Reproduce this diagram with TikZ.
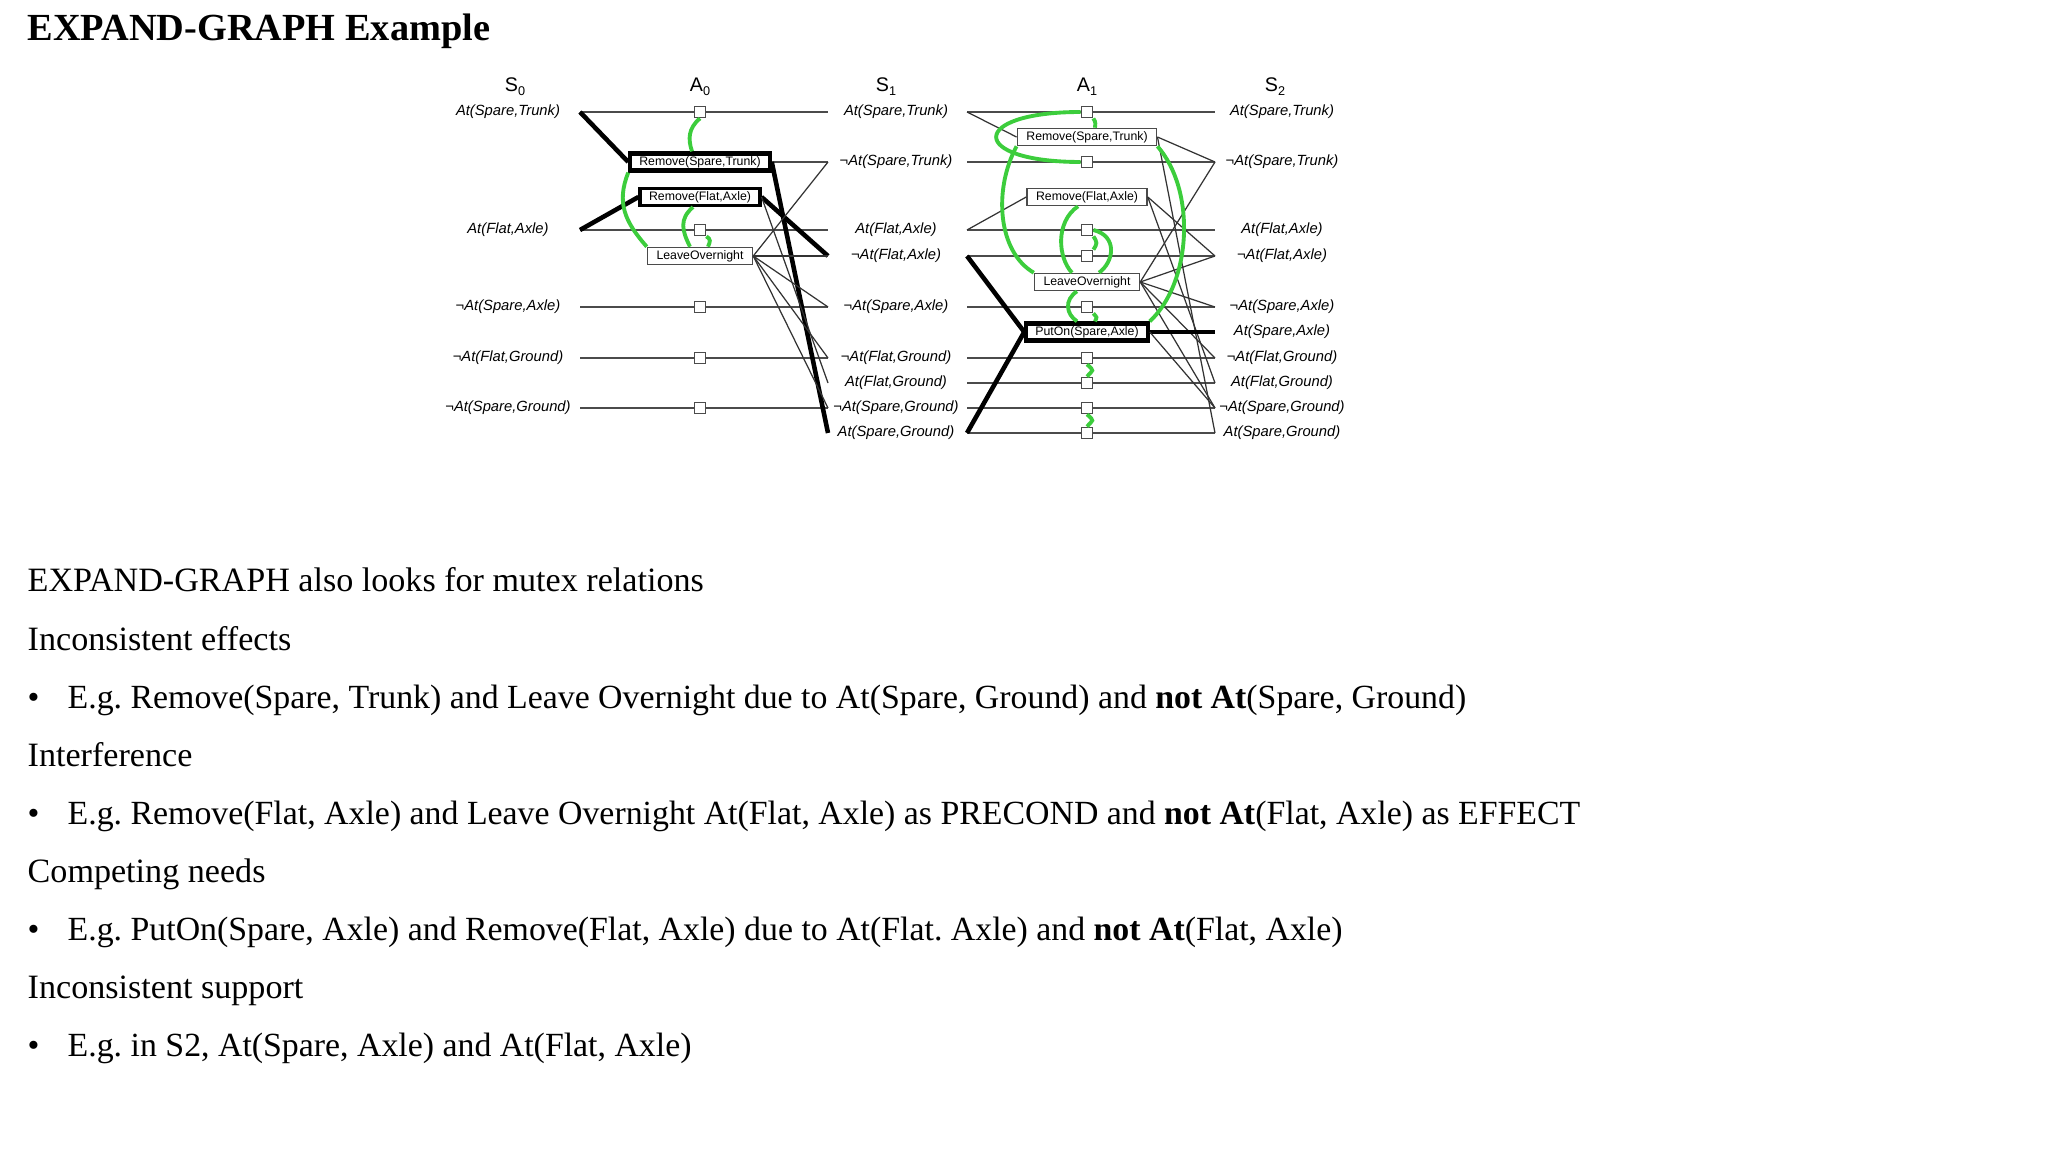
\documentclass[tikz,border=0pt]{standalone}
\usepackage{fontspec}
\setmainfont{Liberation Serif}
\newfontfamily\diagfont{Liberation Sans}
\usepackage{xcolor}
\usetikzlibrary{positioning}
\frenchspacing

\definecolor{mutexgreen}{RGB}{60,205,60}
\definecolor{rowgray}{RGB}{75,75,75}

\newcommand{\lvlname}[2]{#1\raisebox{-0.4ex}{\fontsize{3.6}{4}\selectfont #2}}

\begin{document}
\begin{tikzpicture}[
  x=0.01cm, y=-0.01cm,
  lit/.style={font=\diagfont\itshape\fontsize{4.2}{5}\selectfont, inner sep=0pt},
  hdr/.style={font=\diagfont\fontsize{5.6}{6}\selectfont, inner sep=0pt},
  act/.style={draw=rowgray, line width=0.45pt, fill=white,
              minimum height=0.17cm, inner xsep=0.09cm, inner ysep=0pt,
              font=\diagfont\fontsize{3.5}{4}\selectfont},
  solact/.style={act, draw=black, line width=1.2pt},
  pbox/.style={draw=rowgray, line width=0.5pt, fill=white,
               minimum size=0.11cm, inner sep=0pt},
  row/.style={rowgray, line width=0.55pt},
  eff/.style={black!80, line width=0.35pt},
  sol/.style={black, line width=1.3pt},
  mtx/.style={mutexgreen, line width=1.1pt},
  txt/.style={anchor=base west, inner sep=0pt,
              font=\fontsize{9.7}{11.5}\selectfont},
  btxt/.style={txt, font=\fontsize{9.62}{11.5}\selectfont}
]
\useasboundingbox[fill=white] (0,0) rectangle (2048,1152);

%% title
\node[anchor=base west, inner sep=0pt,
      font=\bfseries\fontsize{10.9}{13}\selectfont] (title) at (27,41)
     {EXPAND-GRAPH Example};

%% level headers
\node[hdr] (hs0) at (515,87)  {\lvlname{S}{0}};
\node[hdr] (ha0) at (700,87)  {\lvlname{A}{0}};
\node[hdr] (hs1) at (886,87)  {\lvlname{S}{1}};
\node[hdr] (ha1) at (1087,87) {\lvlname{A}{1}};
\node[hdr] (hs2) at (1275,87) {\lvlname{S}{2}};

%% S0 literals + persistence boxes of A0
\foreach \nm/\yy/\lbl in {ast/112/{At(Spare,Trunk)}, afa/230/{At(Flat,Axle)},
    nsa/307/{¬At(Spare,Axle)}, nfg/358/{¬At(Flat,Ground)},
    nsg/408/{¬At(Spare,Ground)}}{
  \node[lit] (l0-\nm) at (508,\yy) {\lbl};
  \coordinate (s0-\nm) at (580,\yy);
  \node[pbox] (p0-\nm) at (700,\yy) {};
}

%% S1 and S2 literals + persistence boxes of A1
\foreach \nm/\yy/\lbl in {ast/112/{At(Spare,Trunk)}, nst/162/{¬At(Spare,Trunk)},
    afa/230/{At(Flat,Axle)}, nfa/256/{¬At(Flat,Axle)},
    nsa/307/{¬At(Spare,Axle)}, nfg/358/{¬At(Flat,Ground)},
    afg/383/{At(Flat,Ground)}, nsg/408/{¬At(Spare,Ground)},
    asg/433/{At(Spare,Ground)}}{
  \node[lit] (l1-\nm) at (896,\yy) {\lbl};
  \coordinate (s1l-\nm) at (828,\yy);
  \coordinate (s1r-\nm) at (967,\yy);
  \node[pbox] (p1-\nm) at (1087,\yy) {};
  \node[lit] (l2-\nm) at (1282,\yy) {\lbl};
  \coordinate (s2-\nm) at (1215,\yy);
}
\node[lit] (l2-asa) at (1282,332) {At(Spare,Axle)};
\coordinate (s2-asa) at (1215,332);

%% persistence rows
\foreach \nm in {ast,afa,nsa,nfg,nsg}
  \draw[row] (s0-\nm) -- (p0-\nm) -- (s1l-\nm);
\foreach \nm in {ast,nst,afa,nfa,nsa,nfg,afg,nsg,asg}
  \draw[row] (s1r-\nm) -- (p1-\nm) -- (s2-\nm);

%% actions
\node[solact] (a0rst) at (700,162) {Remove(Spare,Trunk)};
\node[act, draw=black, line width=0.9pt] (a0rfa) at (700,197) {Remove(Flat,Axle)};
\node[act] (a0lo) at (700,256) {LeaveOvernight};

\node[act] (a1rst) at (1087,137) {Remove(Spare,Trunk)};
\node[act] (a1rfa) at (1087,197) {Remove(Flat,Axle)};
\node[act] (a1lo) at (1087,282) {LeaveOvernight};
\node[solact] (a1pon) at (1087,332) {PutOn(Spare,Axle)};

%% A0: preconditions and effects
\draw[sol] (s0-ast) -- (a0rst.west);
\draw[sol] (s0-afa) -- (a0rfa.west);
\draw[row] (a0rst.east) -- (s1l-nst);
\draw[sol] (a0rst.east) -- (s1l-asg);
\draw[sol] (a0rfa.east) -- (s1l-nfa);
\draw[eff] (a0rfa.east) -- (s1l-afg);
\foreach \nm in {nst,nfa,nsa,nfg,nsg}
  \draw[eff] (a0lo.east) -- (s1l-\nm);

%% A1: preconditions and effects
\draw[eff] (s1r-ast) -- (a1rst.west);
\draw[eff] (s1r-afa) -- (a1rfa.west);
\draw[sol] (s1r-nfa) -- (a1pon.west);
\draw[sol] (s1r-asg) -- (a1pon.west);
\draw[eff] (a1rst.east) -- (s2-nst);
\draw[eff] (a1rst.east) -- (s2-asg);
\draw[eff] (a1rfa.east) -- (s2-nfa);
\draw[eff] (a1rfa.east) -- (s2-afg);
\foreach \nm in {nst,nfa,nsa,nfg,nsg}
  \draw[eff] (a1lo.east) -- (s2-\nm);
\draw[sol] (a1pon.east) -- (s2-asa);
\draw[eff] (a1pon.east) -- (s2-nsg);

%% mutex links, level A0
\draw[mtx] (p0-ast.south) .. controls +(-12,10) and +(-4,-12) .. ([xshift=-0.08cm]a0rst.north);
\draw[mtx] (a0rst.south west) .. controls +(-12,30) and +(-22,-25) .. (a0lo.north west);
\draw[mtx] ([xshift=-0.07cm]a0rfa.south) .. controls +(-14,12) and +(-8,-16) .. ([xshift=-0.1cm]a0lo.north);
\draw[mtx] (p0-afa.south east) .. controls +(5,3) and +(2,-5) .. ([xshift=0.08cm]a0lo.north);

%% mutex links, level A1
\draw[mtx] (p1-ast.west) .. controls (968,112) and (968,162) .. (p1-nst.west);
\draw[mtx] (p1-ast.south east) .. controls +(3,5) and +(0,-4) .. ([xshift=0.08cm]a1rst.north);
\draw[mtx] (a1rst.south west) .. controls (993,190) and (998,252) .. (a1lo.north west);
\draw[mtx] ([xshift=-0.09cm]a1rfa.south) .. controls (1055,222) and (1058,258) .. ([xshift=-0.15cm]a1lo.north);
\draw[mtx] (p1-afa.east) .. controls (1118,236) and (1114,262) .. ([xshift=0.12cm]a1lo.north);
\draw[mtx] (p1-afa.south east) .. controls +(4,6) and +(4,-6) .. (p1-nfa.north east);
\draw[mtx] ([xshift=-0.1cm]a1lo.south) .. controls (1064,300) and (1066,314) .. ([xshift=-0.1cm]a1pon.north);
\draw[mtx] (p1-nsa.south east) .. controls +(4,5) and +(2,-5) .. ([xshift=0.08cm]a1pon.north);
\draw[mtx] (a1rst.south east) .. controls (1196,190) and (1192,282) .. (a1pon.north east);
\draw[mtx] (p1-nfg.south) .. controls +(8,7) and +(6,-7) .. (p1-afg.north);
\draw[mtx] (p1-nsg.south) .. controls +(8,7) and +(6,-7) .. (p1-asg.north);

%% notes below the graph
\node[txt] (t1) at (27,592) {EXPAND-GRAPH also looks for mutex relations};
\node[txt] (t2) at (27,650) {Inconsistent effects};
\node[btxt] (b1) at (27,708) {•};
\node[btxt] (t3) at (67,708) {E.g. Remove(Spare, Trunk) and Leave Overnight due to At(Spare, Ground) and \textbf{not At}(Spare, Ground)};
\node[txt] (t4) at (27,766) {Interference};
\node[btxt] (b2) at (27,824) {•};
\node[btxt] (t5) at (67,824) {E.g. Remove(Flat, Axle) and Leave Overnight At(Flat, Axle) as PRECOND and \textbf{not At}(Flat, Axle) as EFFECT};
\node[txt] (t6) at (27,882) {Competing needs};
\node[btxt] (b3) at (27,940) {•};
\node[btxt] (t7) at (67,940) {E.g. PutOn(Spare, Axle) and Remove(Flat, Axle) due to At(Flat. Axle) and \textbf{not At}(Flat, Axle)};
\node[txt] (t8) at (27,998) {Inconsistent support};
\node[btxt] (b4) at (27,1056) {•};
\node[btxt] (t9) at (67,1056) {E.g. in S2, At(Spare, Axle) and At(Flat, Axle)};

\end{tikzpicture}
\end{document}
